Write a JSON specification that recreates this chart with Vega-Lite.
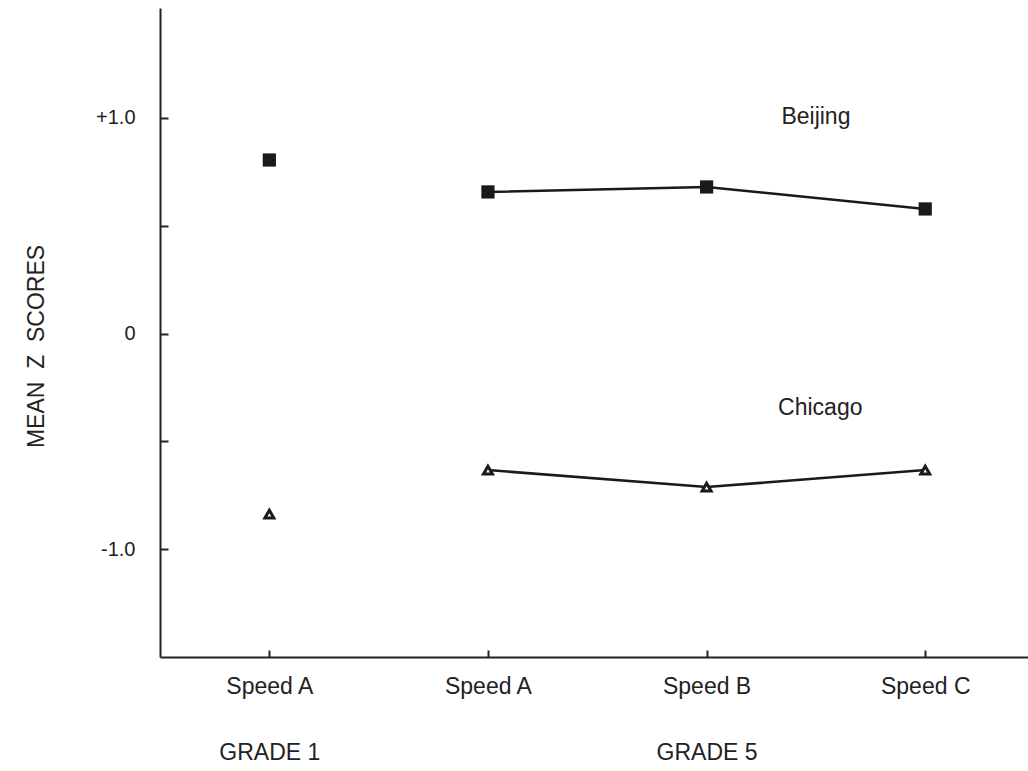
{
  "$schema": "https://vega.github.io/schema/vega-lite/v6.json",
  "width": 868,
  "height": 649,
  "autosize": {"type": "none"},
  "padding": {"left": 160, "top": 8, "right": 0, "bottom": 114},
  "background": "white",
  "config": {
    "view": {"stroke": null},
    "font": "Liberation Sans",
    "axis": {"grid": false}
  },
  "datasets": {
    "scores": [
      {"city": "Beijing", "grade": 1, "speed": "Speed A", "pos": 0, "z": 0.805},
      {"city": "Chicago", "grade": 1, "speed": "Speed A", "pos": 0, "z": -0.837},
      {"city": "Beijing", "grade": 5, "speed": "Speed A", "pos": 1, "z": 0.657},
      {"city": "Beijing", "grade": 5, "speed": "Speed B", "pos": 2, "z": 0.68},
      {"city": "Beijing", "grade": 5, "speed": "Speed C", "pos": 3, "z": 0.578},
      {"city": "Chicago", "grade": 5, "speed": "Speed A", "pos": 1, "z": -0.633},
      {"city": "Chicago", "grade": 5, "speed": "Speed B", "pos": 2, "z": -0.712},
      {"city": "Chicago", "grade": 5, "speed": "Speed C", "pos": 3, "z": -0.633}
    ],
    "labels": [
      {"label": "Beijing", "pos": 2.5, "z": 1.005},
      {"label": "Chicago", "pos": 2.52, "z": -0.345}
    ]
  },
  "layer": [
    {
      "mark": {"type": "rule", "color": "#222", "strokeWidth": 2},
      "encoding": {"y": {"datum": 1.51, "type": "quantitative", "scale": {"domain": [-1.5, 1.51]}}}
    },
    {
      "mark": {"type": "rule", "color": "#222", "strokeWidth": 2},
      "encoding": {"x": {"datum": 0.485, "type": "quantitative", "scale": {"domain": [-0.5, 3.47]}}}
    },
    {
      "data": {"name": "scores"},
      "transform": [{"filter": "datum.grade == 5"}],
      "mark": {"type": "line", "color": "#1a1a1a", "strokeWidth": 2.5},
      "encoding": {
        "x": {"field": "pos", "type": "quantitative"},
        "y": {"field": "z", "type": "quantitative"},
        "detail": {"field": "city"}
      }
    },
    {
      "data": {"name": "scores"},
      "transform": [{"filter": "datum.city == 'Beijing'"}],
      "mark": {"type": "point", "shape": "square", "filled": true, "color": "#1a1a1a", "size": 175, "opacity": 1},
      "encoding": {
        "x": {"field": "pos", "type": "quantitative"},
        "y": {"field": "z", "type": "quantitative"}
      }
    },
    {
      "data": {"name": "scores"},
      "transform": [{"filter": "datum.city == 'Chicago'"}],
      "mark": {"type": "point", "shape": "triangle-up", "filled": true, "fill": "white", "stroke": "#1a1a1a", "strokeWidth": 3, "size": 80, "opacity": 1},
      "encoding": {
        "x": {"field": "pos", "type": "quantitative"},
        "y": {"field": "z", "type": "quantitative"}
      }
    },
    {
      "data": {"name": "labels"},
      "mark": {"type": "text", "fontSize": 23, "color": "#222", "align": "center", "baseline": "middle"},
      "encoding": {
        "x": {"field": "pos", "type": "quantitative"},
        "y": {"field": "z", "type": "quantitative"},
        "text": {"field": "label"}
      }
    }
  ],
  "encoding": {
    "x": {
      "type": "quantitative",
      "scale": {"domain": [-0.5, 3.47], "nice": false, "zero": false},
      "axis": {
        "values": [0, 1, 2, 3],
        "title": null,
        "domainColor": "#222",
        "domainWidth": 2,
        "tickColor": "#222",
        "tickWidth": 2,
        "tickSize": -7,
        "labelPadding": 25,
        "labelFontSize": 23,
        "labelColor": "#222",
        "labelLineHeight": 66,
        "labelBaseline": "top",
        "labelExpr": "datum.value == 0 ? ['Speed A', 'GRADE 1'] : datum.value == 1 ? 'Speed A' : datum.value == 2 ? ['Speed B', 'GRADE 5'] : 'Speed C'"
      }
    },
    "y": {
      "type": "quantitative",
      "scale": {"domain": [-1.5, 1.51], "nice": false, "zero": false},
      "axis": {
        "values": [-1, -0.5, 0, 0.5, 1],
        "title": "MEAN\u00a0 Z\u00a0 SCORES",
        "titleFontSize": 23,
        "titleFontWeight": "normal",
        "titleColor": "#222",
        "titlePadding": 47,
        "titleY": 338,
        "domainColor": "#222",
        "domainWidth": 2,
        "tickColor": "#222",
        "tickWidth": 2,
        "tickSize": -8,
        "labelPadding": 33,
        "labelFontSize": 20,
        "labelColor": "#222",
        "labelExpr": "datum.value == 1 ? '+1.0' : datum.value == 0 ? '0' : datum.value == -1 ? '-1.0' : ''"
      }
    }
  }
}
